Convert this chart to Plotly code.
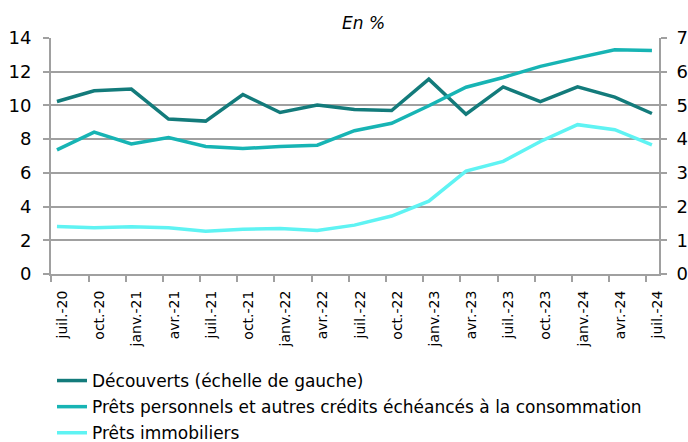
import plotly.graph_objects as go

categories = ["juil.-20", "oct.-20", "janv.-21", "avr.-21", "juil.-21", "oct.-21",
              "janv.-22", "avr.-22", "juil.-22", "oct.-22", "janv.-23", "avr.-23",
              "juil.-23", "oct.-23", "janv.-24", "avr.-24", "juil.-24"]

decouverts = [10.23, 10.87, 10.97, 9.19, 9.07, 10.65, 9.58, 10.02, 9.76, 9.70,
              11.56, 9.48, 11.10, 10.23, 11.10, 10.49, 9.52]
prets_perso = [3.68, 4.21, 3.86, 4.05, 3.78, 3.72, 3.78, 3.82, 4.25, 4.47,
               4.99, 5.54, 5.83, 6.16, 6.41, 6.65, 6.63]
prets_immo = [1.41, 1.37, 1.40, 1.37, 1.27, 1.33, 1.35, 1.29, 1.45, 1.72,
              2.16, 3.05, 3.34, 3.93, 4.43, 4.28, 3.83]

left_ticks = [0, 2, 4, 6, 8, 10, 12, 14]
right_ticks = [0, 1, 2, 3, 4, 5, 6, 7]

FONT = "DejaVu Sans"
C_DARK = "#137B7B"
C_MID = "#17B4B4"
C_LIGHT = "#5FF3F3"
GRID = "#A0A0A0"

W, H = 688, 442
L, R, T, B = 51, 29, 38, 168
plot_w = W - L - R

x = list(range(len(categories)))
label_pos = [i + 0.15 for i in x]

fig = go.Figure()
fig.add_trace(go.Scatter(x=x, y=decouverts, mode="lines", name="Découverts (échelle de gauche)",
                         line=dict(color=C_DARK, width=3.5), yaxis="y", legendgroup="a"))
fig.add_trace(go.Scatter(x=x, y=prets_perso, mode="lines",
                         name="Prêts personnels et autres crédits échéancés à la consommation",
                         line=dict(color=C_MID, width=3.5), yaxis="y2", legendgroup="b"))
fig.add_trace(go.Scatter(x=x, y=prets_immo, mode="lines", name="Prêts immobiliers",
                         line=dict(color=C_LIGHT, width=3.5), yaxis="y2", legendgroup="c"))

fig.update_layout(
    width=W, height=H,
    margin=dict(l=L, r=R, t=T, b=B, autoexpand=False),
    paper_bgcolor="white", plot_bgcolor="white",
    font=dict(family=FONT, size=15, color="black"),
    showlegend=True,
    legend=dict(x=52 / W, xref="container", y=1 - 363 / H, yref="container",
                xanchor="left", yanchor="top",
                font=dict(family=FONT, size=17), tracegroupgap=1,
                itemwidth=30, bgcolor="rgba(0,0,0,0)"),
    xaxis=dict(
        range=[-0.16, len(categories) - 1 + 0.19],
        tickmode="array", tickvals=label_pos, ticktext=categories,
        tickangle=-90, tickfont=dict(size=14),
        showgrid=False, showline=True, linecolor=GRID, linewidth=2,
        ticks="", ticklabelstandoff=9, zeroline=False,
        minor=dict(tick0=-0.15, dtick=1, ticks="outside", ticklen=6,
                   tickcolor=GRID, tickwidth=2, showgrid=False),
        automargin=False,
    ),
    yaxis=dict(
        range=[0, 14], tickvals=left_ticks, tickfont=dict(size=18),
        showgrid=True, gridcolor=GRID, gridwidth=2,
        showline=True, linecolor=GRID, linewidth=2,
        ticks="outside", ticklen=6, tickcolor=GRID, tickwidth=2, zeroline=False,
        ticklabelstandoff=8, automargin=False,
    ),
    yaxis2=dict(
        range=[0, 7], tickvals=right_ticks, tickfont=dict(size=18),
        overlaying="y", side="right", showgrid=False,
        showline=True, linecolor=GRID, linewidth=2,
        ticks="outside", ticklen=6, tickcolor=GRID, tickwidth=2, zeroline=False,
        ticklabelstandoff=6, automargin=False,
    ),
    annotations=[dict(text="<i>En %</i>", x=(363 - L) / plot_w, xref="paper",
                      y=1, yref="paper", yshift=3,
                      showarrow=False, font=dict(size=17, family=FONT),
                      xanchor="center", yanchor="bottom")],
)

fig.write_html("out.html", config={"displayModeBar": False},
               post_script="document.body.style.margin='0';")
